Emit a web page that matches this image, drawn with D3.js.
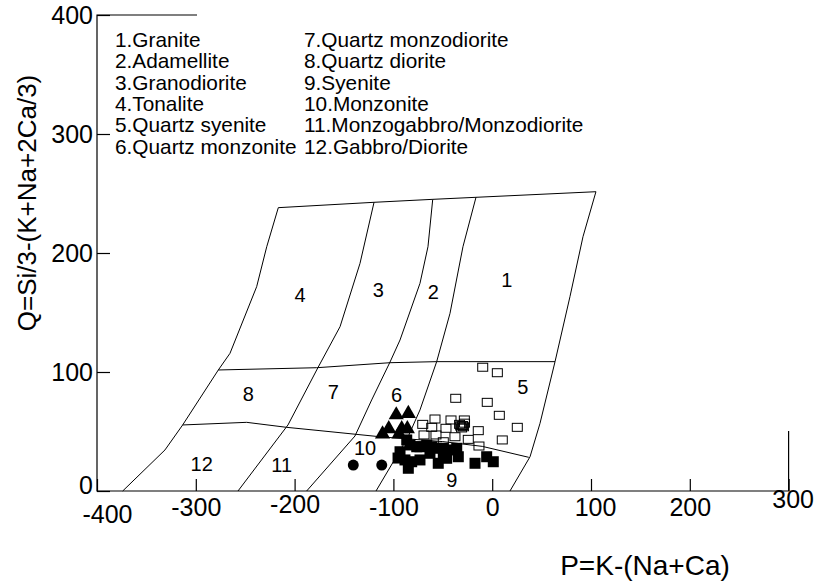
<!DOCTYPE html>
<html>
<head>
<meta charset="utf-8">
<script src="https://d3js.org/d3.v7.min.js"></script>
<style>
  body { margin: 0; background: #fff; }
  svg text { font-family: "Liberation Sans", Arial, sans-serif; fill: #000; }
  .field { fill: none; stroke: #000; stroke-width: 1; }
  .frame { fill: none; stroke: #000; stroke-width: 1.2; }
  .axis path { display: none; }
  .axis line { stroke: #000; stroke-width: 1.2; }
</style>
</head>
<body>
<script>
var width = 818, height = 588;

var xTicks = [-400, -300, -200, -100, 0, 100, 200, 300];
var yTicks = [0, 100, 200, 300, 400];

var legendLeft = ["1.Granite", "2.Adamellite", "3.Granodiorite", "4.Tonalite",
                  "5.Quartz syenite", "6.Quartz monzonite"];
var legendRight = ["7.Quartz monzodiorite", "8.Quartz diorite", "9.Syenite",
                   "10.Monzonite", "11.Monzogabbro/Monzodiorite", "12.Gabbro/Diorite"];

// field numbers and where they sit (P, Q)
var fieldNames = ["1", "2", "3", "4", "5", "6", "7", "8", "9", "10", "11", "12"];
var fieldP = [14.7, -59.6, -115.3, -194.5, 30.9, -96.7, -160.8, -246.9, -41, -128.7, -213.1, -294];
var fieldQ = [177.3, 167.5, 168.9, 164.7, 87.6, 80.7, 83.4, 82.1, 9.2, 35.9, 21.8, 22.7];

// field boundaries, [P, Q]
var topLine = [[-216.5, 238.1], [-119.6, 242.6], [-60.2, 245.1], [-16.4, 246.8], [105, 251.5]];
var leftLine = [[-216.5, 238.1], [-228.2, 205.3], [-238.4, 171.7], [-265.4, 115.7], [-277.2, 101.7],
                [-313.3, 55.5], [-331.2, 34.5], [-374, 0]];
var line43 = [[-119.6, 242.6], [-133.8, 191.3], [-154, 138.1], [-176.3, 103.8], [-206.7, 55.5], [-257.3, 0]];
var line32 = [[-60.2, 245.1], [-65, 205.3], [-73.1, 174.5], [-93.3, 126.9], [-103.4, 108.4],
              [-122, 76.5], [-138.9, 46.2], [-187.8, 0]];
var line21 = [[-16.4, 246.8], [-29.6, 205.3], [-42.7, 149.3], [-56.2, 108.7], [-73.1, 68.1],
              [-85.2, 45.4], [-117.6, 0]];
var rightLine = [[105, 251.5], [91.9, 213.7], [78.7, 163.3], [63.6, 108.7], [48.4, 56.9], [38.3, 28.8], [18, 0]];
var midLine = [[-277.2, 101.7], [-177.6, 103.6], [-103.4, 107.8], [-56.2, 108.7], [63.6, 108.7]];
var lowLine = [[-313.3, 55.5], [-248.5, 57.7], [-208, 53.5], [-174.3, 50.7], [-113.6, 45.6],
               [-50, 41.5], [-10, 37.5], [37, 28.3]];

// samples
var openSqP = [-9.6, 5.2, -36.9, -5, 7.2, 25.4, 10.2, -14.1, -24.2, -13.4, -70.3, -57.9, -41.7, -28.2,
               -61.2, -46.8, -31.9, -69, -56.9, -37.7, -49.5, -33, -30, -28, -31, -29];
var openSqQ = [104, 99.4, 77.9, 74.5, 63.6, 53.5, 42.9, 50.7, 43.4, 37.8, 56, 60.5, 59.7, 59.7,
               53.5, 52.7, 54.6, 47.1, 47.1, 45.6, 41.4, 56, 55, 57, 53, 54];

var fillSqP = [-86.5, -93.3, -88.3, -84.9, -73.1, -63, -54.6, -76.4, -66.3, -56.2, -44.4, -35.9, -34.3,
               -17.4, -5.6, 1.1, -49.5, -81.5, -95.3, -46.1, -83.2, -73.1, -61.2, -49.5];
var fillSqQ = [42.9, 33, 26.1, 19.1, 26.1, 31.7, 23.3, 37.2, 38.7, 35.9, 34.5, 35.9, 28.8,
               23.3, 28.8, 24.6, 28.8, 24.6, 27.7, 27.5, 38.7, 37.2, 37.2, 35.9];

var triP = [-97.1, -84.9, -104.7, -111, -91.6, -85.9, -94.3];
var triQ = [63.9, 65.1, 52.3, 47.9, 52.3, 52.3, 47.9];

var circP = [-140.6, -111.8];
var circQ = [21.8, 21.8];

var svg = d3.select("body").append("svg")
    .attr("width", width)
    .attr("height", height);

var x = d3.scaleLinear().domain([-400, 300]).range([97, 788.6]);
var y = d3.scaleLinear().domain([0, 400]).range([491, 15]);

// axis lines; top and right edges are only short pieces
var frame = svg.append("g").attr("class", "frame");
frame.append("path")
    .attr("d", "M" + (x(-400) + 100) + "," + y(400) + "H" + x(-400) + "V" + y(0) + "H" + x(300) + "V" + (y(0) - 60));

// axes, ticks pointing inward
var xLabelShift = {"-400": [10, 7], "-300": [0, 0], "-200": [0, -3], "-100": [0, 0],
                   "0": [0, 0], "100": [4, 0], "200": [0, 0], "300": [4, -8]};

var xAxis = svg.append("g")
    .attr("class", "axis")
    .attr("transform", "translate(0," + y(0) + ")")
    .call(d3.axisBottom(x).tickValues(xTicks).tickSizeInner(-12).tickSizeOuter(0)
        .tickPadding(7).tickFormat(function (d) { return String(d); }));
xAxis.selectAll("text")
    .style("font-size", "25px")
    .attr("dx", function (d) { return xLabelShift[d][0]; })
    .attr("dy", function (d) { return (0.71 * 25 + xLabelShift[d][1]) + "px"; });

var yAxis = svg.append("g")
    .attr("class", "axis")
    .attr("transform", "translate(" + x(-400) + ",0)")
    .call(d3.axisLeft(y).tickValues(yTicks).tickSizeInner(-13).tickSizeOuter(0)
        .tickPadding(4).tickFormat(function (d) { return String(d); }));
yAxis.selectAll("text").style("font-size", "25px");
yAxis.selectAll("text").filter(function (d) { return d === 0; }).attr("dy", "0.1em");

// field boundaries
var line = d3.line()
    .x(function (d) { return x(d[0]); })
    .y(function (d) { return y(d[1]); });

var boundaries = [topLine, leftLine, line43, line32, line21, rightLine, midLine, lowLine];
svg.append("g").selectAll("path")
    .data(boundaries)
    .enter().append("path")
    .attr("class", "field")
    .attr("d", line);

svg.append("g").selectAll("text")
    .data(fieldNames)
    .enter().append("text")
    .attr("x", function (d, i) { return x(fieldP[i]); })
    .attr("y", function (d, i) { return y(fieldQ[i]); })
    .attr("text-anchor", "middle")
    .attr("dy", "0.36em")
    .style("font-size", "20px")
    .text(function (d) { return d; });

// legend
var legend = svg.append("g").style("font-size", "20.8px");
legend.selectAll(".lg-left")
    .data(legendLeft)
    .enter().append("text")
    .attr("x", 115)
    .attr("y", function (d, i) { return 47 + i * 21.3; })
    .text(function (d) { return d; });
legend.selectAll(".lg-right")
    .data(legendRight)
    .enter().append("text")
    .attr("x", 304)
    .attr("y", function (d, i) { return 47 + i * 21.3; })
    .text(function (d) { return d; });

// samples
var pts = svg.append("g");
pts.selectAll(".open-sq")
    .data(openSqP)
    .enter().append("rect")
    .attr("x", function (d) { return x(d) - 5; })
    .attr("y", function (d, i) { return y(openSqQ[i]) - 4; })
    .attr("width", 10).attr("height", 8)
    .attr("fill", "none").attr("stroke", "#000").attr("stroke-width", 1);

pts.selectAll(".fill-sq")
    .data(fillSqP)
    .enter().append("rect")
    .attr("x", function (d) { return x(d) - 5.5; })
    .attr("y", function (d, i) { return y(fillSqQ[i]) - 5.5; })
    .attr("width", 11).attr("height", 11)
    .attr("fill", "#000");

pts.selectAll(".tri")
    .data(triP)
    .enter().append("path")
    .attr("transform", function (d, i) { return "translate(" + x(d) + "," + y(triQ[i]) + ")"; })
    .attr("d", d3.symbol().type(d3.symbolTriangle).size(100))
    .attr("fill", "#000");

pts.selectAll(".circ")
    .data(circP)
    .enter().append("circle")
    .attr("cx", function (d) { return x(d); })
    .attr("cy", function (d, i) { return y(circQ[i]); })
    .attr("r", 5.5)
    .attr("fill", "#000");

// axis titles
svg.append("text")
    .attr("transform", "translate(36,203) rotate(-90)")
    .attr("text-anchor", "middle")
    .style("font-size", "26px")
    .text("Q=Si/3-(K+Na+2Ca/3)");

svg.append("text")
    .attr("x", 645)
    .attr("y", 575)
    .attr("text-anchor", "middle")
    .style("font-size", "28px")
    .text("P=K-(Na+Ca)");
</script>
</body>
</html>
